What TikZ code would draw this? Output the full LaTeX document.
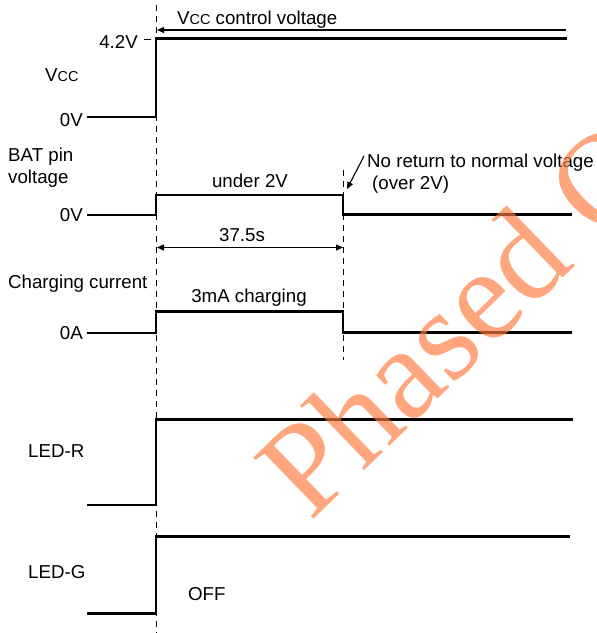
\documentclass[tikz,border=0pt]{standalone}
\usepackage{fontspec}
\setmainfont{Liberation Sans}
\newfontfamily\wmfont{Liberation Serif}
\usetikzlibrary{arrows.meta}
\definecolor{wmorange}{RGB}{255,120,60}
\begin{document}
\begin{tikzpicture}[x=1pt,y=-1pt,
  sig/.style={line width=2.8pt, line cap=butt, line join=miter},
  guide/.style={line width=1pt, dash pattern=on 6pt off 5pt},
  dimline/.style={line width=1.1pt, -{Triangle[length=7pt,width=6pt]}},
  dimboth/.style={line width=1.1pt, {Triangle[length=7pt,width=6pt]}-{Triangle[length=7pt,width=6pt]}},
  lbl/.style={font=\fontsize{18.7}{22}\selectfont, inner sep=0pt},
]
\useasboundingbox (0,0) rectangle (597,633);

% guide lines
\coordinate (g1t) at (156,5);
\coordinate (g1b) at (156,633);
\coordinate (g2t) at (343,170);
\coordinate (g2b) at (343,360);
\draw[guide] (g1t) -- (g1b);
\draw[guide] (g2t) -- (g2b);

% Vcc
\node[lbl, anchor=base west] (vcctxt) at (177,24) {V{\fontsize{14.4}{16}\selectfont CC} control voltage};
\coordinate (ca) at (566,30);
\coordinate (cb) at (157,30);
\draw[dimline] (ca) -- (cb);
\node[lbl, anchor=base east] (v42) at (138,48) {4.2V};
\draw[line width=1pt] (144,39) -- (151,39);
\node[lbl, anchor=base west] (vcc) at (45,81) {V{\fontsize{14.4}{16}\selectfont CC}};
\node[lbl, anchor=base east] (vcc0) at (83,126) {0V};
\draw[sig] (87,117) -- (156,117) -- (156,38.5) -- (567,38.5);

% BAT pin voltage
\node[lbl, anchor=base west] (batA) at (8,161) {BAT pin};
\node[lbl, anchor=base west] (batB) at (8,183.5) {voltage};
\node[lbl, anchor=base east] (bat0) at (83,221) {0V};
\node[lbl, anchor=base] (under) at (250,187) {under 2V};
\draw[sig] (87,215) -- (156,215) -- (156,195) -- (343,195) -- (343,214.5) -- (572,214.5);
\node[lbl, anchor=base west] (noret) at (367,167.5) {No return to normal voltage};
\node[lbl, anchor=base west] (over) at (372,189) {(over 2V)};
\coordinate (nrs) at (364,156);
\coordinate (nre) at (347,189);
\draw[dimline] (nrs) -- (nre);

% 37.5 s
\coordinate (tA) at (157,247.5);
\coordinate (tB) at (343,247.5);
\draw[dimboth] (tA) -- (tB);
\node[lbl, anchor=base] (t375) at (242,241.5) {37.5s};

% Charging current
\node[lbl, anchor=base west] (chg) at (8,288.5) {Charging current};
\node[lbl, anchor=base] (mA) at (249,302.5) {3mA charging};
\node[lbl, anchor=base east] (chg0) at (83,339.5) {0A};
\draw[sig] (87,333) -- (156,333) -- (156,311.7) -- (343,311.7) -- (343,332.7) -- (572,332.7);

% LED-R
\node[lbl, anchor=base west] (ledr) at (28,457.5) {LED-R};
\draw[sig] (87,505) -- (156,505) -- (156,419.3) -- (572.5,419.3);

% LED-G
\node[lbl, anchor=base west] (ledg) at (28,578.5) {LED-G};
\node[lbl, anchor=base west] (off) at (188,600) {OFF};
\draw[sig] (87,613.3) -- (156,613.3) -- (156,536.7) -- (570,536.7);

% watermark
\begin{scope}
\clip (0,0) rectangle (597,633);
\node[font=\wmfont\fontsize{131}{131}\selectfont, text=wmorange, opacity=0.66, rotate=44, anchor=base west, inner sep=0pt] (wm) at (310,523) {Phased Out};
\end{scope}
\end{tikzpicture}
\end{document}
